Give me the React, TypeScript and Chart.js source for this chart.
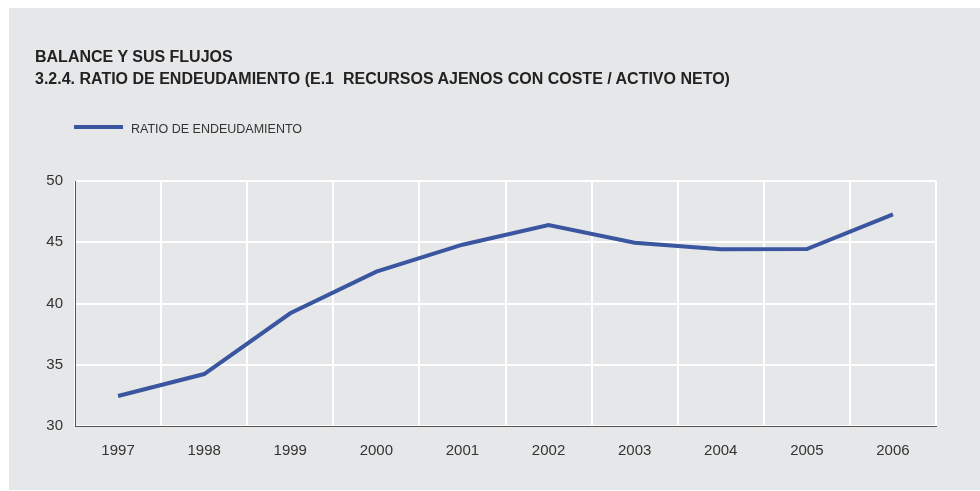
import React, { useEffect, useRef } from "react";
import { Chart, registerables } from "chart.js";

Chart.register(...registerables);

const years = ["1997", "1998", "1999", "2000", "2001", "2002", "2003", "2004", "2005", "2006"];
const ratio = [32.45, 34.24, 39.2, 42.6, 44.8, 46.4, 44.96, 44.42, 44.45, 47.28];
const seriesLabel = "RATIO DE ENDEUDAMIENTO";
const titleLine1 = "BALANCE Y SUS FLUJOS";
const titleLine2 = "3.2.4. RATIO DE ENDEUDAMIENTO (E.1  RECURSOS AJENOS CON COSTE / ACTIVO NETO)";
const yMin = 30;
const yMax = 50;
const yStep = 5;

const FONT = '"Liberation Sans", Arial, Helvetica, sans-serif';
const BG = "#e6e7e8";
const LINE = "#3a56a0";
const TEXT = "#333333";

export default function App() {
  const ref = useRef<HTMLCanvasElement | null>(null);

  useEffect(() => {
    if (!ref.current) return;
    const chart = new Chart(ref.current, {
      type: "line",
      data: {
        labels: years,
        datasets: [
          {
            label: seriesLabel,
            data: ratio,
            borderColor: LINE,
            backgroundColor: LINE,
            borderWidth: 4,
            pointRadius: 0,
            tension: 0,
            fill: false,
          },
        ],
      },
      options: {
        animation: false,
        responsive: false,
        maintainAspectRatio: false,
        layout: { padding: { left: 0, top: 173, right: 44, bottom: 0 } },
        plugins: {
          legend: { display: false },
          title: { display: false },
          tooltip: { enabled: false },
        },
        scales: {
          x: {
            type: "category",
            offset: true,
            grid: { offset: true, color: "#ffffff", lineWidth: 2, drawTicks: false },
            border: { display: true, color: "#555555", width: 1 },
            ticks: { color: TEXT, font: { family: FONT, size: 15 }, padding: 16, maxRotation: 0 },
            afterFit: (s: any) => {
              s.height = 64;
            },
          },
          y: {
            min: yMin,
            max: yMax,
            grid: { color: "#ffffff", lineWidth: 2, drawTicks: false },
            border: { display: true, color: "#555555", width: 1 },
            ticks: { stepSize: yStep, color: TEXT, font: { family: FONT, size: 15 }, padding: 12 },
            afterFit: (s: any) => {
              s.width = 66;
            },
          },
        },
      },
    });
    return () => chart.destroy();
  }, []);

  return (
    <div
      style={{
        position: "fixed",
        left: 9,
        top: 8,
        width: 971,
        height: 482,
        background: BG,
        fontFamily: FONT,
        color: TEXT,
      }}
    >
      <canvas ref={ref} width={971} height={482} style={{ position: "absolute", left: 0, top: 0 }} />
      <div
        style={{
          position: "absolute",
          left: 26,
          top: 38,
          fontSize: 16,
          fontWeight: "bold",
          lineHeight: "22px",
          whiteSpace: "pre",
          color: "#222",
        }}
      >
        <div>{titleLine1}</div>
        <div>{titleLine2}</div>
      </div>
      <div style={{ position: "absolute", left: 65, top: 111, height: 16, display: "flex", alignItems: "center" }}>
        <div style={{ width: 49, height: 4, background: LINE }} />
        <div style={{ marginLeft: 8, paddingTop: 4, fontSize: 12.5, color: TEXT, whiteSpace: "pre" }}>{seriesLabel}</div>
      </div>
    </div>
  );
}
